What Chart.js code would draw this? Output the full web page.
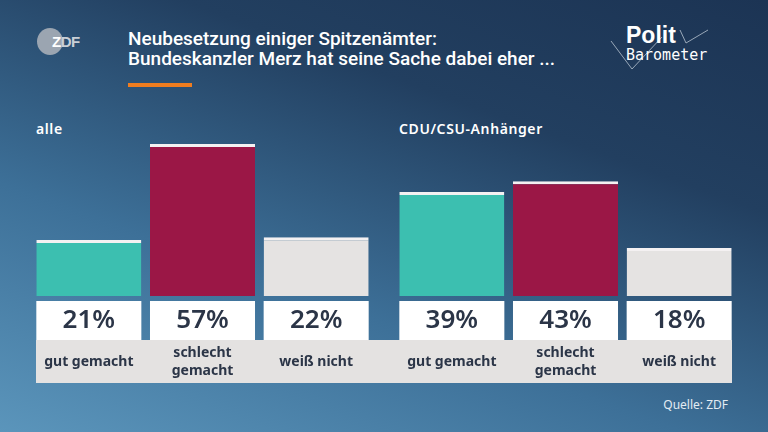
<!DOCTYPE html>
<html lang="de">
<head>
<meta charset="utf-8">
<script src="https://cdn.jsdelivr.net/npm/chart.js@4"></script>
<style>
  html, body { margin: 0; padding: 0; }
  body {
    width: 768px; height: 432px; position: relative; overflow: hidden;
    background: linear-gradient(200deg, #1c3454 0%, #223f60 30%, #3d7098 65%, #5b95bb 100%);
    font-family: "Noto Sans", sans-serif; color: #fff;
  }
  .title { position: absolute; left: 128px; top: 29px; font-family: Roboto, sans-serif;
    font-weight: 500; font-size: 19px; line-height: 20px; }
  .accent { position: absolute; left: 128px; top: 83px; width: 64px; height: 4px; background: #f07d1f; }
  .group { position: absolute; top: 119px; font-size: 14px; font-weight: 600; letter-spacing: 0.6px; }
  .band { position: absolute; left: 36px; top: 340px; width: 696px; height: 43px; background: #e4e2e1; }
  .source { position: absolute; right: 40px; top: 396px; font-size: 12px; color: #e3ecf3; }
  .zdf { position: absolute; left: 37px; top: 28px; width: 26px; height: 27px; border-radius: 50%; background: #9ba5b1; }
  .zdftxt { position: absolute; left: 52px; top: 33px; font-family: "Liberation Sans", sans-serif; font-weight: 700;
    font-size: 15px; letter-spacing: -0.5px; color: #c9cfd6; }
  canvas { position: absolute; }
</style>
</head>
<body>
<div class="zdf"></div>
<div class="zdftxt"><span style="color:#fff">Z</span>DF</div>
<div class="title">Neubesetzung einiger Spitzenämter:<br>Bundeskanzler Merz hat seine Sache dabei eher ...</div>
<div class="accent"></div>
<svg style="position:absolute;left:600px;top:15px" width="130" height="65">
  <polyline points="11,26 32,54 62,22" fill="none" stroke="#b8c4d0" stroke-width="0.8"/>
  <polyline points="80,15 86,28 108,15" fill="none" stroke="#b8c4d0" stroke-width="0.8"/>
  <text x="26" y="28" fill="#fff" font-family="Liberation Sans" font-weight="700" font-size="23">Polit</text>
  <text x="26" y="45" fill="#fff" font-family="DejaVu Sans Mono" font-size="15">Barometer</text>
</svg>
<div class="group" style="left:36px">alle</div>
<div class="group" style="left:399px">CDU/CSU-Anhänger</div>
<div class="band"></div>
<canvas id="chartAlle" width="341" height="290" style="left:32px;top:100px"></canvas>
<canvas id="chartUnion" width="341" height="290" style="left:395px;top:100px"></canvas>
<div class="source">Quelle: ZDF</div>

<script>
// Daten
const categories = [['gut gemacht'], ['schlecht', 'gemacht'], ['weiß nicht']];
const alleValues = [21, 57, 22];
const unionValues = [39, 43, 18];
const barColors = ['#3cbfb0', '#9b1746', '#e5e3e2'];

// Wertkästchen und Beschriftungen unter den Balken
const boxPlugin = {
  id: 'boxes',
  afterDatasetsDraw(chart) {
    const c = chart.ctx;
    const meta = chart.getDatasetMeta(0);
    const base = chart.chartArea.bottom;
    meta.data.forEach((bar, i) => {
      const w = bar.width;
      c.fillStyle = '#ffffff';
      c.fillRect(bar.x - w / 2, base + 5, w, 39);
      c.fillStyle = '#2b3547';
      c.textAlign = 'center';
      c.textBaseline = 'middle';
      c.font = '600 26px "Noto Sans"';
      c.fillText(chart.data.datasets[0].data[i] + '%', bar.x, base + 25);
      c.font = 'bold 14px "Noto Sans"';
      const lines = chart.data.labels[i];
      const lh = 18;
      const y0 = base + 66 - (lines.length - 1) * lh / 2;
      lines.forEach((t, k) => c.fillText(t, bar.x, y0 + k * lh));
    });
  }
};

function makeChart(id, values) {
  return new Chart(document.getElementById(id).getContext('2d'), {
    type: 'bar',
    data: {
      labels: categories,
      datasets: [{
        data: values,
        backgroundColor: barColors,
        borderColor: '#f4f1f2',
        borderWidth: { top: 3, left: 0, right: 0, bottom: 0 },
        borderSkipped: false,
        barPercentage: 0.924,
        categoryPercentage: 1
      }]
    },
    options: {
      responsive: false,
      animation: false,
      layout: { padding: { top: 0, bottom: 94, left: 0, right: 0 } },
      plugins: { legend: { display: false }, tooltip: { enabled: false } },
      scales: {
        x: { display: false },
        y: { display: false, min: 0, max: 73.5 }
      }
    },
    plugins: [boxPlugin]
  });
}

makeChart('chartAlle', alleValues);
makeChart('chartUnion', unionValues);
</script>
</body>
</html>
